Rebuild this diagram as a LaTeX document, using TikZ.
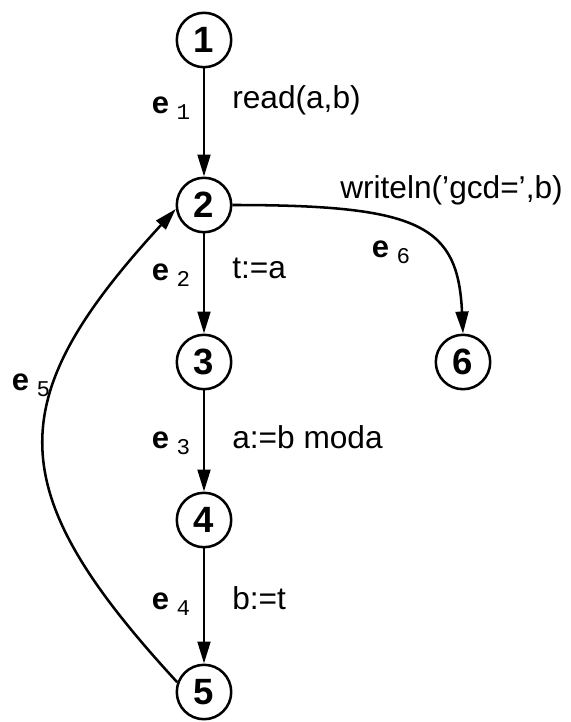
\documentclass[tikz,border=0pt]{standalone}
\usepackage{fontspec}
\setmainfont{Liberation Sans}
\newfontfamily\submono{Liberation Mono}
\usetikzlibrary{arrows.meta}
\tikzset{
    stnode/.style = {circle, line width=1.8pt, draw=black, minimum size=1.36cm, inner sep=0pt, font=\fontsize{26}{26}\selectfont\bfseries},
    edgen/.style = {-{Triangle[length=0.55cm,width=0.32cm]}, line width=1.8pt},
    stmt/.style = {anchor=west, inner sep=0pt, font=\fontsize{22.5}{22.5}\selectfont},
    elab/.style = {inner sep=0pt, font=\fontsize{22}{22}\selectfont\bfseries}
}
\newcommand{\elabel}[1]{e\hspace{0.25em}\raisebox{-0.35ex}{\submono\mdseries\fontsize{16}{16}\selectfont #1}}

\begin{document}
\begin{tikzpicture}[x=0.025cm,y=-0.025cm]
%
\path[use as bounding box] (0,0) rectangle (571,722);
%
\node[stnode] at (204,40) (n1) {1};
\node[stnode] at (204,205) (n2) {2};
\node[stnode] at (204,362) (n3) {3};
\node[stnode] at (204,520) (n4) {4};
\node[stnode] at (204,692) (n5) {5};
\node[stnode] at (463,362) (n6) {6};
%
\draw[edgen] (n1) -- (n2);
\draw[edgen] (n2) -- (n3);
\draw[edgen] (n3) -- (n4);
\draw[edgen] (n4) -- (n5);
\draw[edgen] (n2.east) .. controls (420,205) and (458,225) .. (n6.north);
\draw[edgen] (n5.160) .. controls (0,490) and (0,400) .. (n2.188);
%
\node[stmt] at (232,100) (s1) {read(a,b)};
\node[stmt] at (232,268) (s2) {t:=a};
\node[stmt] at (232,437) (s3) {a:=b moda};
\node[stmt] at (232,598) (s4) {b:=t};
\node[stmt] at (340,190) (s6) {writeln('gcd=',b)};
%
\node[elab] at (171,108) (e1) {\elabel{1}};
\node[elab] at (171,275) (e2) {\elabel{2}};
\node[elab] at (171,443) (e3) {\elabel{3}};
\node[elab] at (171,604) (e4) {\elabel{4}};
\node[elab] at (31,385) (e5) {\elabel{5}};
\node[elab] at (391,252) (e6) {\elabel{6}};

\end{tikzpicture}
\end{document}
